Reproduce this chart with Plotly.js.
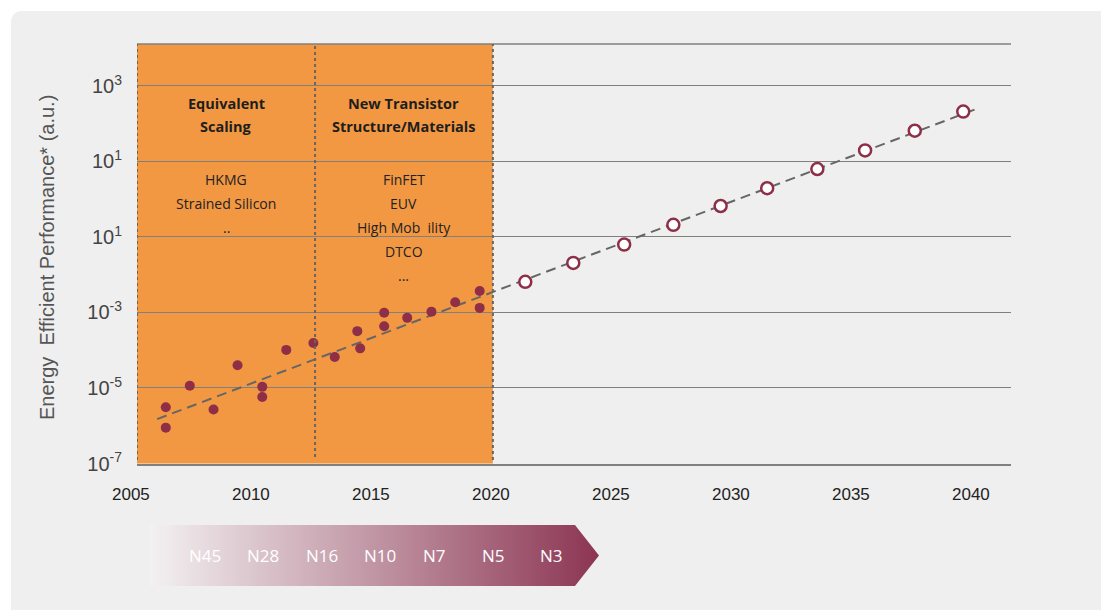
<!DOCTYPE html>
<html>
<head>
<meta charset="utf-8">
<script src="https://cdn.plot.ly/plotly-3.0.1.min.js"></script>
<style>
  html, body { margin: 0; padding: 0; background: #ffffff; }
  #wrap { position: relative; width: 1101px; height: 610px; overflow: hidden; }
  #panel { position: absolute; left: 11px; top: 11px; width: 1090px; height: 599px; background: #efefef; border-top-left-radius: 10px; }
  #chart { position: absolute; left: 0; top: 0; width: 1101px; height: 610px; }
</style>
</head>
<body>
<div id="wrap"><div id="panel"></div><div id="chart"></div></div>
<script>
// ---- data ----
const histYears  = [2006.43, 2006.43, 2007.43, 2008.42, 2009.42, 2010.45, 2010.45, 2011.45, 2012.58, 2013.47, 2014.41, 2014.53, 2015.53, 2015.53, 2016.49, 2017.50, 2018.49, 2019.51, 2019.51];
const histValues = [3.1e-6, 8.9e-7, 1.15e-5, 2.7e-6, 4.0e-5, 1.07e-5, 5.8e-6, 1.02e-4, 1.55e-4, 6.6e-5, 3.2e-4, 1.12e-4, 9.8e-4, 4.3e-4, 7.2e-4, 1.05e-3, 1.86e-3, 3.7e-3, 1.32e-3];
const projYears  = [2021.41, 2023.41, 2025.53, 2027.58, 2029.55, 2031.49, 2033.58, 2035.57, 2037.64, 2039.66];
const projValues = [6.5e-3, 2.05e-2, 6.3e-2, 0.21, 0.66, 1.95, 6.3, 19.5, 65, 209];
const trendYears  = [2006.07, 2040.33];
const trendValues = [1.5e-6, 263];

const xTickYears = [2005, 2010, 2015, 2020, 2025, 2030, 2035, 2040];
const yTickVals  = [1e3, 1e1, 1e-1, 1e-3, 1e-5, 1e-7];
const yTickText  = ['10<sup>3</sup>', '10<sup>1</sup>', '10<sup>1</sup>', '10<sup>-3</sup>', '10<sup>-5</sup>', '10<sup>-7</sup>'];

const eraStart = 2005.23, eraSplit = 2012.65, eraEnd = 2020.06;
const eraTitles = [['Equivalent', 'Scaling'], ['New Transistor', 'Structure/Materials']];
const eraItems  = [['HKMG', 'Strained Silicon', '..'], ['FinFET', 'EUV', 'High Mob  ility', 'DTCO', '...']];
const nodeLabels = ['N45', 'N28', 'N16', 'N10', 'N7', 'N5', 'N3'];

// ---- layout constants ----
const X0 = 2005.23, X1 = 2041.65;
const H = 556, TOP = 44;                       // plot area height / top margin (px)
const py = p => (TOP + H - p) / H;             // page pixel y -> paper y
const mainBottom = py(463.5);
const RED = '#8e2f47', ORANGE = '#f29843', GRID = '#808080';

const traces = [
  { x: trendYears, y: trendValues, mode: 'lines', type: 'scatter',
    line: { color: '#666666', width: 2, dash: '10px,6px' }, hoverinfo: 'skip' },
  { x: histYears, y: histValues, mode: 'markers', type: 'scatter',
    marker: { color: RED, size: 10, line: { width: 0 } } },
  { x: projYears, y: projValues, mode: 'markers', type: 'scatter',
    marker: { color: '#ffffff', size: 12, line: { color: RED, width: 2.5 } } },
  // technology-node arrow (decoration)
  { x: [0, 0.9465, 1, 0.9465, 0, 0], y: [0, 0, 0.5, 1, 1, 0], xaxis: 'x2', yaxis: 'y2',
    type: 'scatter', mode: 'lines', fill: 'toself', line: { width: 0 }, hoverinfo: 'skip',
    fillgradient: { type: 'horizontal', colorscale: [[0, '#f3f1f2'], [0.5, '#c095a4'], [1, '#8c3553']] } }
];

const annotations = [];
// x tick labels
xTickYears.forEach(yr => annotations.push({
  xref: 'paper', yref: 'paper', x: (yr - X0) / (X1 - X0), y: py(494),
  xanchor: 'center', yanchor: 'middle', showarrow: false, text: String(yr),
  font: { family: 'Liberation Sans Narrow, Liberation Sans, Arial', size: 17, color: '#222222' }
}));
// y axis title
annotations.push({
  xref: 'paper', yref: 'paper', x: 0, xshift: -90, y: py(258), textangle: -90,
  xanchor: 'center', yanchor: 'middle', showarrow: false,
  text: 'Energy  Efficient Performance* (a.u.)',
  font: { family: 'Liberation Sans, Arial', size: 20, color: '#555555' }
});
// era texts
const eraCenters = [(eraStart + eraSplit) / 2, (eraSplit + eraEnd) / 2];
eraTitles.forEach((lines, k) => lines.forEach((t, i) => annotations.push({
  xref: 'x', yref: 'paper', x: eraCenters[k], y: py(103 + 24 * i), showarrow: false,
  xanchor: 'center', yanchor: 'middle', text: '<b>' + t + '</b>',
  font: { family: 'Open Sans, Noto Sans', size: 14.5, color: '#1e1e1e' }
})));
eraItems.forEach((lines, k) => lines.forEach((t, i) => annotations.push({
  xref: 'x', yref: 'paper', x: eraCenters[k], y: py(179 + 24.2 * i), showarrow: false,
  xanchor: 'center', yanchor: 'middle', text: t,
  font: { family: 'Open Sans, Noto Sans', size: 14, color: '#222222' }
})));
// node labels on the arrow
nodeLabels.forEach((t, i) => annotations.push({
  xref: 'x2', yref: 'y2', x: 0.0817 + 0.1305 * i, y: 0.5, showarrow: false,
  xanchor: 'left', yanchor: 'middle', text: t,
  font: { family: 'Open Sans, Noto Sans', size: 17, color: '#ffffff' }
}));

const shapes = [
  { type: 'rect', xref: 'x', yref: 'paper', x0: eraStart, x1: eraEnd, y0: mainBottom, y1: 1,
    fillcolor: ORANGE, line: { width: 0 }, layer: 'below' },
  { type: 'line', xref: 'paper', yref: 'paper', x0: 0, x1: 1, y0: 1, y1: 1,
    line: { color: GRID, width: 1.5 }, layer: 'below' },
  { type: 'line', xref: 'x', yref: 'paper', x0: eraStart, x1: eraStart, y0: py(460), y1: 1,
    line: { color: '#666666', width: 2, dash: 'dot' } },
  { type: 'line', xref: 'x', yref: 'paper', x0: eraSplit, x1: eraSplit, y0: py(457), y1: 1,
    line: { color: '#666666', width: 2, dash: 'dot' } },
  { type: 'line', xref: 'x', yref: 'paper', x0: eraEnd, x1: eraEnd, y0: py(460), y1: 1,
    line: { color: '#666666', width: 2, dash: 'dot' } }
];

const layout = {
  width: 1101, height: 610,
  margin: { l: 137, r: 90, t: TOP, b: 10, pad: 0 },
  paper_bgcolor: 'rgba(0,0,0,0)', plot_bgcolor: 'rgba(0,0,0,0)',
  showlegend: false,
  xaxis: { range: [X0, X1], domain: [0, 1], anchor: 'y', showgrid: false, zeroline: false,
           showline: true, linecolor: GRID, linewidth: 2, showticklabels: false, ticks: '' },
  yaxis: { type: 'log', range: [-7, 4.11], domain: [mainBottom, 1], anchor: 'x',
           tickvals: yTickVals, ticktext: yTickText, showgrid: true, gridcolor: GRID, gridwidth: 1,
           zeroline: false, showline: false, ticks: '', ticklabelstandoff: 14,
           tickfont: { family: 'Liberation Sans, Arial', size: 20, color: '#444444' } },
  xaxis2: { domain: [13 / 874, 462 / 874], range: [0, 1], anchor: 'y2', visible: false },
  yaxis2: { domain: [py(586), py(525)], range: [0, 1], anchor: 'x2', visible: false },
  shapes: shapes,
  annotations: annotations
};

Plotly.newPlot('chart', traces, layout, { displayModeBar: false, staticPlot: true });
</script>
</body>
</html>
